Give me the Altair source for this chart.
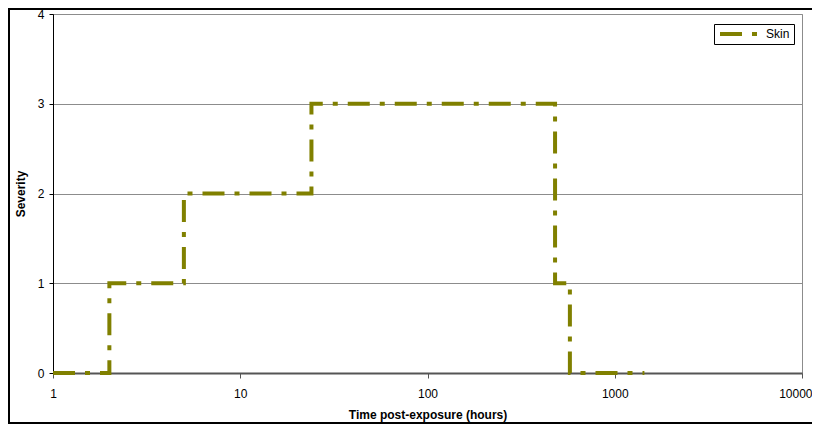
import altair as alt
import pandas as pd

# Data (step-shaped severity profile)
time_hours = [1, 2, 2, 5, 5, 24, 24, 480, 480, 576, 576, 1440]
severity = [0, 0, 1, 1, 2, 2, 3, 3, 1, 1, 0, 0]
series_name = "Skin"
x_ticks = [1, 10, 100, 1000, 10000]
y_ticks = [0, 1, 2, 3, 4]

df = pd.DataFrame({
    "time": time_hours,
    "severity": severity,
    "idx": list(range(len(time_hours))),
    "series": [series_name] * len(time_hours),
})

FONT = "Liberation Sans"
OLIVE = "#808000"
DASH = [22, 10, 5, 10]

last_tick_test = "datum.value >= 10000"

line = alt.Chart(df).mark_line(strokeWidth=4, strokeDash=DASH, strokeCap="butt").encode(
    x=alt.X("time:Q",
            scale=alt.Scale(type="log", domain=[1, 10000], nice=False),
            axis=alt.Axis(values=x_ticks, format="d", title="Time post-exposure (hours)",
                          grid=False, domainColor="#555555", domainWidth=2,
                          tickColor="#555555", tickSize=5, labelPadding=10,
                          labelFlush=False,
                          labelAlign={"condition": {"test": last_tick_test, "value": "right"},
                                      "value": "center"},
                          labelOffset={"condition": {"test": last_tick_test, "value": 10},
                                       "value": 0},
                          labelFontSize=12, labelFont=FONT, labelColor="#000000",
                          titleFont=FONT, titleFontSize=12, titleFontWeight="bold",
                          titlePadding=10, titleColor="#000000")),
    y=alt.Y("severity:Q",
            scale=alt.Scale(domain=[0, 4], nice=False),
            axis=alt.Axis(values=y_ticks, title="Severity", grid=True,
                          gridColor="#8c8c8c", gridWidth=1, labelFlush=False,
                          domainColor="#000000", tickColor="#000000", tickSize=4,
                          labelPadding=5, labelFontSize=12, labelFont=FONT,
                          labelColor="#000000", titleFont=FONT, titleFontSize=12,
                          titleFontWeight="bold", titlePadding=10, titleColor="#000000")),
    color=alt.Color("series:N",
                    scale=alt.Scale(domain=[series_name], range=[OLIVE]),
                    legend=alt.Legend(title=None, orient="none", legendX=661, legendY=10,
                                      strokeColor="#000000", fillColor="#ffffff",
                                      padding=4, symbolType="stroke", symbolSize=1681,
                                      clipHeight=12,
                                      symbolStrokeWidth=4, symbolDash=DASH,
                                      labelOffset=3, labelFont=FONT, labelFontSize=12,
                                      labelColor="#000000")),
    order=alt.Order("idx:Q"),
)

frame = alt.Chart(pd.DataFrame({"k": [0]})).mark_rect(
    fill=None, stroke="#000000", strokeWidth=2
).encode(
    x=alt.value(-44), x2=alt.value(770), y=alt.value(-5), y2=alt.value(409)
)

chart = alt.layer(frame, line).properties(
    width=749, height=359,
    autosize=alt.AutoSizeParams(type="none"),
    padding={"left": 45, "top": 6, "right": 10, "bottom": 51},
).configure_view(stroke="#8c8c8c", strokeWidth=1)

chart.save("out.html", embed_options={"renderer": "svg", "actions": False})
